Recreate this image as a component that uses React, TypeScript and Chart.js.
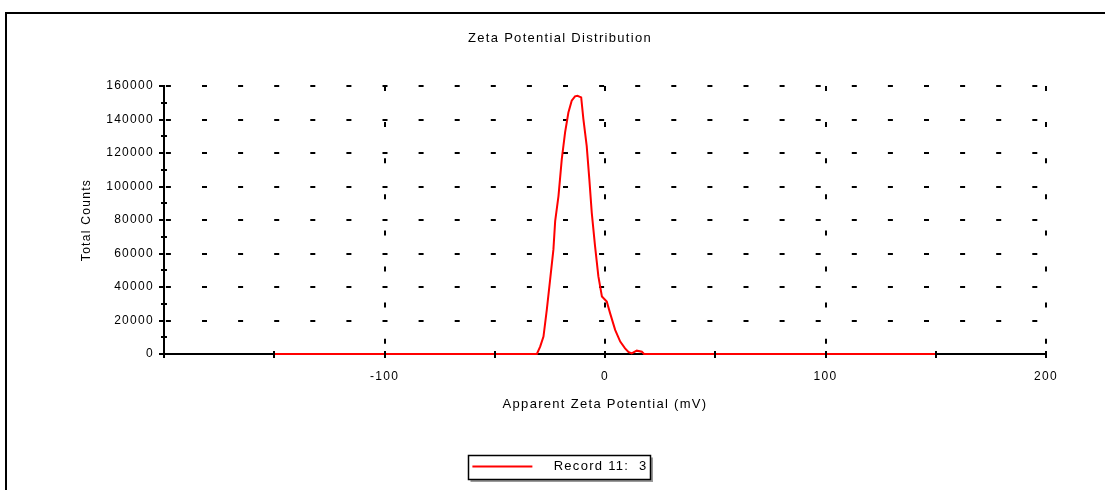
import React, { useEffect, useRef } from "react";
import { Chart, registerables } from "chart.js";

Chart.register(...registerables);

const chartTitle = "Zeta Potential Distribution";
const xAxisTitle = "Apparent Zeta Potential (mV)";
const yAxisTitle = "Total Counts";
const seriesName = "Record 11:  3";

// Apparent zeta potential (mV)
const potentials = [
  -150, -30.9, -29.4, -27.9, -26.4, -24.9, -23.4, -22.6, -21.1, -19.6, -18.1, -16.6,
  -15.1, -13.6, -12.5, -10.8, -9.8, -8.3, -7.1, -6.0, -4.5, -3.0, -1.4, 0.8, 2.3,
  4.6, 6.9, 9.1, 10.6, 12.1, 14.4, 16.7, 17.7, 150,
];
// Total counts
const totalCounts = [
  0, 0, 4400, 10400, 26400, 44300, 62300, 79300, 94300, 116300, 132300, 144200,
  151200, 153800, 154200, 153200, 140200, 124200, 104300, 84300, 64300, 46300, 34300, 31300, 24400,
  14400, 7400, 3400, 1200, 400, 2000, 1400, 0, 0,
];

const xTickLabels = [-100, 0, 100, 200];
const xGridValues = [-100, 0, 100, 200];
const yTickLabels = [0, 20000, 40000, 60000, 80000, 100000, 120000, 140000, 160000];
const yGridValues = [20000, 40000, 60000, 80000, 100000, 120000, 140000, 160000];

const FONT_FAMILY = "'Liberation Sans', Arial, sans-serif";
const LETTER_SPACING = "1.3px";
const legendGap = "   ";

const letterSpacingPlugin = {
  id: "letterSpacing",
  beforeUpdate(chart: any) {
    chart.ctx.letterSpacing = LETTER_SPACING;
  },
  beforeLayout(chart: any) {
    chart.ctx.letterSpacing = LETTER_SPACING;
  },
  beforeDraw(chart: any) {
    chart.ctx.letterSpacing = LETTER_SPACING;
  },
};

const crossTicksPlugin = {
  id: "crossTicks",
  afterDatasetsDraw(chart: any) {
    const { ctx, chartArea, scales } = chart;
    const xs = scales.x;
    const ys = scales.y;
    ctx.save();
    ctx.strokeStyle = "#000";
    ctx.lineWidth = 2;
    ctx.beginPath();
    const by = Math.round(chartArea.bottom);
    const lx = Math.round(chartArea.left);
    xs.ticks.forEach((t: any) => {
      const px = Math.round(xs.getPixelForValue(t.value));
      ctx.moveTo(px, by - 3);
      ctx.lineTo(px, by + 4);
    });
    ys.ticks.forEach((t: any) => {
      const py = Math.round(ys.getPixelForValue(t.value));
      const major = yTickLabels.includes(t.value);
      ctx.moveTo(lx - (major ? 5 : 3), py);
      ctx.lineTo(lx + (major ? 1 : 3), py);
    });
    ctx.stroke();
    ctx.restore();
  },
};

const legendFramePlugin = {
  id: "legendFrame",
  afterDraw(chart: any) {
    const hb = chart.legend?.legendHitBoxes?.[0];
    if (!hb) return;
    const ctx = chart.ctx;
    const x = Math.round(hb.left - 4) + 0.5;
    const y = Math.round(hb.top - 5.5) + 0.5;
    const w = Math.round(hb.width + 7);
    const h = Math.round(hb.height + 11);
    ctx.save();
    ctx.strokeStyle = "#9a9a9a";
    ctx.lineWidth = 2;
    ctx.beginPath();
    ctx.moveTo(x + w + 1.5, y + 2);
    ctx.lineTo(x + w + 1.5, y + h + 1.5);
    ctx.lineTo(x + 2, y + h + 1.5);
    ctx.stroke();
    ctx.strokeStyle = "#000";
    ctx.lineWidth = 1.5;
    ctx.strokeRect(x, y, w, h);
    ctx.restore();
  },
};

export default function App() {
  const canvasRef = useRef<HTMLCanvasElement>(null);

  useEffect(() => {
    const canvas = canvasRef.current;
    if (!canvas) return;
    const points = potentials.map((p, i) => ({ x: p, y: totalCounts[i] }));
    const chart = new Chart(canvas, {
      type: "line",
      data: {
        datasets: [
          {
            label: seriesName,
            data: points,
            borderColor: "#ff0000",
            backgroundColor: "#ff0000",
            borderWidth: 2,
            pointRadius: 0,
            tension: 0,
            clip: 4,
            xAxisID: "x",
            yAxisID: "y",
          },
        ],
      },
      options: {
        responsive: false,
        maintainAspectRatio: false,
        animation: false,
        devicePixelRatio: 1,
        layout: { padding: { left: 15, right: 0, top: 0, bottom: 7 } },
        plugins: {
          tooltip: { enabled: false },
          title: {
            display: true,
            text: chartTitle,
            color: "#000",
            font: { family: FONT_FAMILY, size: 13, weight: "normal" },
            padding: { top: 30.2, bottom: 40.2 },
          },
          legend: {
            display: true,
            position: "bottom",
            labels: {
              color: "#000",
              font: { family: FONT_FAMILY, size: 13 },
              boxWidth: 60,
              boxHeight: 0,
              padding: 10,
              generateLabels: (c: any) =>
                (Chart.defaults.plugins.legend.labels as any)
                  .generateLabels(c)
                  .map((item: any) => ({ ...item, text: legendGap + item.text })),
            },
          },
        },
        scales: {
          x: {
            type: "linear",
            position: "bottom",
            min: -200,
            max: 200,
            ticks: {
              stepSize: 50,
              autoSkip: false,
              maxRotation: 0,
              padding: 15.5,
              color: "#000",
              font: { family: FONT_FAMILY, size: 12 },
              callback: (v: any) => (xTickLabels.includes(Number(v)) ? String(v) : ""),
            },
            grid: {
              drawTicks: false,
              lineWidth: 2,
              color: (ctx: any) =>
                ctx.tick && xGridValues.includes(ctx.tick.value) ? "#000" : "rgba(0,0,0,0)",
            },
            border: { display: true, color: "#000", width: 2, dash: [5, 31.1], dashOffset: 0 },
            title: {
              display: true,
              text: xAxisTitle,
              color: "#000",
              font: { family: FONT_FAMILY, size: 13 },
              padding: { top: 0, bottom: 38 },
            },
            afterFit: (s: any) => {
              s.height = 96;
            },
          },
          y: {
            type: "linear",
            position: "left",
            min: 0,
            max: 160000,
            ticks: {
              stepSize: 10000,
              autoSkip: false,
              padding: 10,
              color: "#000",
              font: { family: FONT_FAMILY, size: 12 },
              callback: (v: any) => (yTickLabels.includes(Number(v)) ? String(v) : ""),
            },
            grid: {
              drawTicks: false,
              lineWidth: 2,
              color: (ctx: any) =>
                ctx.tick && yGridValues.includes(ctx.tick.value) ? "#000" : "rgba(0,0,0,0)",
            },
            border: { display: true, color: "#000", width: 2, dash: [5, 31.1], dashOffset: -0.9 },
            title: {
              display: true,
              text: yAxisTitle,
              color: "#000",
              font: { family: FONT_FAMILY, size: 12 },
              padding: { top: 64.8, bottom: 0 },
            },
            afterFit: (s: any) => {
              s.width = 149;
            },
          },
          rightSpace: {
            type: "linear",
            position: "right",
            display: true,
            min: 0,
            max: 1,
            ticks: { display: false },
            grid: { display: false, drawTicks: false },
            border: { display: false },
            afterFit: (s: any) => {
              s.width = 59;
            },
          },
        },
      },
      plugins: [letterSpacingPlugin, crossTicksPlugin, legendFramePlugin],
    } as any);
    return () => chart.destroy();
  }, []);

  return (
    <div
      style={{
        position: "absolute",
        left: 0,
        top: 0,
        width: 1105,
        height: 490,
        overflow: "hidden",
        background: "#fff",
      }}
    >
      <div
        style={{
          position: "absolute",
          left: 5,
          top: 12,
          width: 1200,
          height: 600,
          borderLeft: "2px solid #000",
          borderTop: "2px solid #000",
        }}
      />
      <canvas
        ref={canvasRef}
        width={1105}
        height={490}
        style={{ position: "absolute", left: 0, top: 0, width: 1105, height: 490 }}
      />
    </div>
  );
}
